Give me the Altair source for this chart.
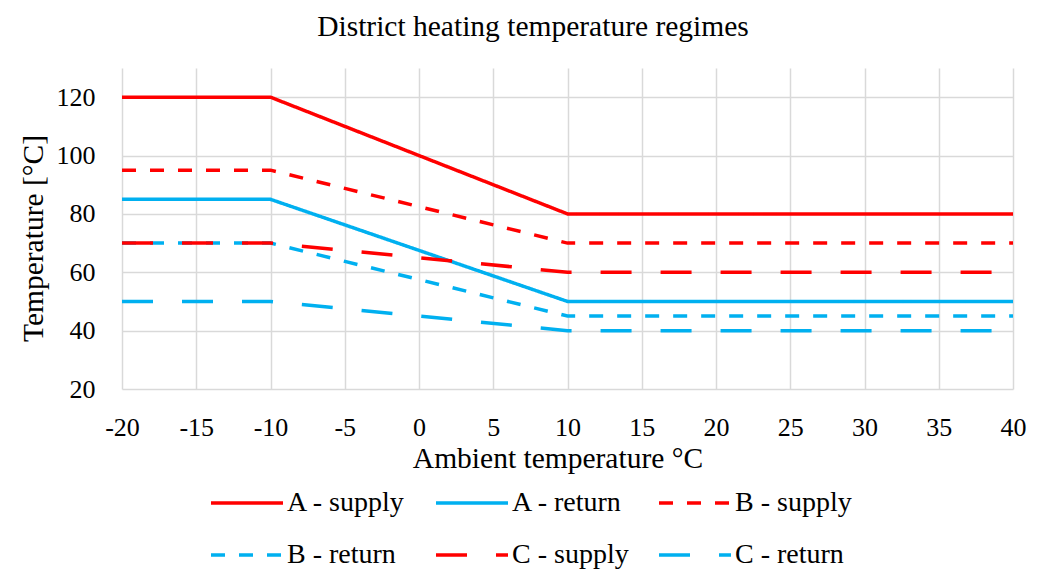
import altair as alt
import pandas as pd

# Data
ambient = [-20, -10, 10, 40]
a_supply = [120, 120, 80, 80]
a_return = [85, 85, 50, 50]
b_supply = [95, 95, 70, 70]
b_return = [70, 70, 45, 45]
c_supply = [70, 70, 60, 60]
c_return = [50, 50, 40, 40]

series_names = ["A - supply", "A - return", "B - supply", "B - return", "C - supply", "C - return"]
series_values = [a_supply, a_return, b_supply, b_return, c_supply, c_return]
series_colors = ["#FF0000", "#00B0F0", "#FF0000", "#00B0F0", "#FF0000", "#00B0F0"]
series_dashes = [[1, 0], [1, 0], [14, 14], [14, 14], [31, 29], [31, 29]]

x_ticks = list(range(-20, 41, 5))
y_ticks = [20, 40, 60, 80, 100, 120]

rows = []
for order, (name, vals) in enumerate(zip(series_names, series_values)):
    for x, y in zip(ambient, vals):
        rows.append({"series": name, "order": order, "x": x, "y": y})
df = pd.DataFrame(rows)

FONT = "Liberation Serif"

chart = (
    alt.Chart(df)
    .mark_line(strokeWidth=3.5)
    .encode(
        x=alt.X(
            "x:Q",
            scale=alt.Scale(domain=[-20, 40], nice=False),
            axis=alt.Axis(
                values=x_ticks,
                labelExpr="'' + datum.value",
                labelFlush=False,
                labelOverlap=False,
                title="Ambient temperature °C",
                titleX=435.5,
                titleY=78,
                titleAlign="center",
                titleBaseline="alphabetic",
                labelBaseline="alphabetic",
                labelPadding=46,
                labelFontSize=26,
            ),
        ),
        y=alt.Y(
            "y:Q",
            scale=alt.Scale(domain=[20, 130], nice=False, zero=False),
            axis=alt.Axis(
                values=y_ticks,
                labelExpr="'' + datum.value",
                labelFlush=False,
                labelOverlap=False,
                title="Temperature [°C]",
                titleX=-89,
                titleY=170,
                titleAngle=-90,
                titleAlign="center",
                titleBaseline="middle",
                labelPadding=27,
                labelFontSize=26,
            ),
        ),
        color=alt.Color(
            "series:N",
            scale=alt.Scale(domain=series_names, range=series_colors),
            legend=alt.Legend(
                title=None,
                orient="none",
                legendX=87,
                legendY=397,
                direction="horizontal",
                columns=3,
                symbolType="stroke",
                symbolSize=5184,
                symbolStrokeWidth=3.5,
                labelFontSize=28,
                labelFont=FONT,
                labelColor="#000000",
                labelOffset=2,
                columnPadding=23,
                rowPadding=-28,
                padding=0,
            ),
        ),
        strokeDash=alt.StrokeDash(
            "series:N",
            scale=alt.Scale(domain=series_names, range=series_dashes),
        ),
        detail="series:N",
        order="order:Q",
    )
    .properties(
        width=891,
        height=321,
        title=alt.TitleParams(
            text="District heating temperature regimes",
            anchor="middle",
            frame="group",
            dx=-34.5,
            dy=-3,
            offset=0,
            baseline="alphabetic",
            fontSize=29.5,
            font=FONT,
            fontWeight="normal",
            color="#000000",
        ),
        autosize=alt.AutoSizeParams(type="none"),
        padding={"left": 114, "top": 60, "right": 15, "bottom": 180},
        background="#FFFFFF",
    )
    .configure_axis(
        grid=True,
        gridColor="#D9D9D9",
        gridWidth=1.5,
        domain=False,
        ticks=False,
        tickSize=0,
        labelFont=FONT,
        labelColor="#000000",
        titleFont=FONT,
        titleFontSize=29.5,
        titleFontWeight="normal",
        titleColor="#000000",
    )
    .configure_view(stroke=None)
)

chart.save("out.html", embed_options={"renderer": "svg", "actions": False})
